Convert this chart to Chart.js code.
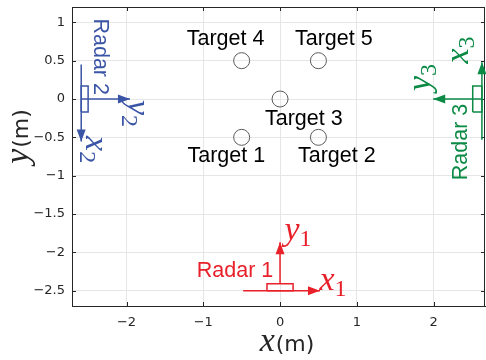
<!DOCTYPE html>
<html>
<head>
<meta charset="utf-8">
<script src="https://cdn.jsdelivr.net/npm/chart.js@4.4.0/dist/chart.umd.min.js"></script>
<style>
    html, body { margin: 0; padding: 0; background: #fff; }
    #wrap { width: 486px; height: 360px; }
</style>
</head>
<body>
<div id="wrap"><canvas id="chart" width="486" height="360"></canvas></div>
<script>
// axis ticks
const xTicks = [-2, -1, 0, 1, 2];
const yTicks = [-2.5, -2, -1.5, -1, -0.5, 0, 0.5, 1];

// targets
const targetNames = ['Target 1', 'Target 2', 'Target 3', 'Target 4', 'Target 5'];
const targetX = [-0.5, 0.5, 0, -0.5, 0.5];
const targetY = [-0.5, -0.5, 0, 0.5, 0.5];
const targetLabelX = [-0.7, 0.74, 0.31, -0.71, 0.7];
const targetLabelY = [-0.74, -0.74, -0.26, 0.78, 0.78];

// radar bodies (closed outlines) and local axes (start -> arrow tip)
const radar1Box = [[-0.17, -2.5], [0.17, -2.5], [0.17, -2.41], [-0.17, -2.41], [-0.17, -2.5]];
const radar1XAxis = [[-0.48, -2.5], [0.52, -2.5]];
const radar1YAxis = [[0, -2.41], [0, -1.87]];

const radar2Box = [[-2.59, -0.17], [-2.5, -0.17], [-2.5, 0.17], [-2.59, 0.17], [-2.59, -0.17]];
const radar2XAxis = [[-2.59, 0.45], [-2.59, -0.555]];
const radar2YAxis = [[-2.59, 0], [-1.955, 0]];

const radar3Box = [[2.51, -0.17], [2.63, -0.17], [2.63, 0.17], [2.51, 0.17], [2.51, -0.17]];
const radar3XAxis = [[2.63, -0.53], [2.63, 0.48]];
const radar3YAxis = [[2.63, 0], [1.995, 0]];

// radar labels
const radarNames = ['Radar 1', 'Radar 2', 'Radar 3'];
const radarLabelX = [-0.587, -2.347, 2.36];
const radarLabelY = [-2.24, 0.552, -0.56];
const radarLabelRot = [0, 90, -90];

// axis symbols: letter, subscript, position, rotation
const axisSym = ['x', 'y', 'x', 'y', 'x', 'y'];
const axisSub = ['1', '1', '2', '2', '3', '3'];
const axisSymX = [0.69, 0.235, -2.45, -1.9, 2.37, 1.88];
const axisSymY = [-2.41, -1.76, -0.66, -0.19, 0.64, 0.28];
const axisSymRot = [0, 0, 90, 90, -90, -90];
const axisSymRadar = [0, 0, 1, 1, 2, 2];

const radarColors = ['#e8202a', '#3b55a6', '#0b8a45'];
const INK = '#262626';

const toPts = arr => arr.map(p => ({ x: p[0], y: p[1] }));
const minus = v => String(v).replace('-', '\u2212');

function lineSet(pts, color, arrow) {
    return {
        data: toPts(pts),
        showLine: true,
        borderColor: color,
        backgroundColor: color,
        borderWidth: 1.5,
        pointRadius: 0,
        fill: false,
        tension: 0,
        arrow: arrow
    };
}

function drawMath(ctx, letter, sub, px, py, rot, color) {
    ctx.save();
    ctx.translate(px, py);
    ctx.rotate(rot * Math.PI / 180);
    ctx.fillStyle = color;
    ctx.textBaseline = 'alphabetic';
    ctx.textAlign = 'left';
    ctx.font = 'italic 34px "Liberation Serif"';
    const w1 = ctx.measureText(letter).width;
    ctx.font = '24px "Liberation Serif"';
    const w2 = ctx.measureText(sub).width;
    const x0 = -(w1 + w2) / 2;
    ctx.font = 'italic 34px "Liberation Serif"';
    ctx.fillText(letter, x0, 6);
    ctx.font = '24px "Liberation Serif"';
    ctx.fillText(sub, x0 + w1, 12);
    ctx.restore();
}

const annotate = {
    id: 'annotate',
    beforeDatasetsDraw(chart) {
        const { ctx, chartArea: a, scales: { x, y } } = chart;
        // inward tick marks and box
        ctx.save();
        ctx.strokeStyle = INK;
        ctx.lineWidth = 1;
        ctx.beginPath();
        xTicks.forEach(v => {
            const px = Math.round(x.getPixelForValue(v)) + 0.5;
            ctx.moveTo(px, a.bottom); ctx.lineTo(px, a.bottom - 4);
            ctx.moveTo(px, a.top); ctx.lineTo(px, a.top + 4);
        });
        yTicks.forEach(v => {
            const py = Math.round(y.getPixelForValue(v)) + 0.5;
            ctx.moveTo(a.left, py); ctx.lineTo(a.left + 4, py);
            ctx.moveTo(a.right, py); ctx.lineTo(a.right - 4, py);
        });
        ctx.stroke();
        ctx.beginPath();
        ctx.moveTo(a.left, a.top + 0.5); ctx.lineTo(a.right, a.top + 0.5);
        ctx.moveTo(a.right - 0.5, a.top); ctx.lineTo(a.right - 0.5, a.bottom);
        ctx.stroke();
        ctx.restore();
    },
    afterDatasetsDraw(chart) {
        const { ctx, chartArea: a, scales: { x, y } } = chart;

        // arrow heads at the end of the radar axes
        chart.data.datasets.forEach((ds, i) => {
            if (!ds.arrow) return;
            const pts = chart.getDatasetMeta(i).data;
            const p0 = pts[pts.length - 2], p1 = pts[pts.length - 1];
            const ang = Math.atan2(p1.y - p0.y, p1.x - p0.x);
            ctx.save();
            ctx.translate(p1.x, p1.y);
            ctx.rotate(ang);
            ctx.fillStyle = ds.borderColor;
            ctx.beginPath();
            ctx.moveTo(0, 0);
            ctx.lineTo(-12, -4.5);
            ctx.lineTo(-12, 4.5);
            ctx.closePath();
            ctx.fill();
            ctx.restore();
        });

        ctx.save();
        ctx.textAlign = 'center';
        ctx.textBaseline = 'middle';

        // target labels
        ctx.fillStyle = '#000';
        ctx.font = '21.5px "Liberation Sans"';
        targetNames.forEach((t, i) => {
            ctx.fillText(t, x.getPixelForValue(targetLabelX[i]), y.getPixelForValue(targetLabelY[i]));
        });

        // radar labels
        radarNames.forEach((t, i) => {
            ctx.save();
            ctx.translate(x.getPixelForValue(radarLabelX[i]), y.getPixelForValue(radarLabelY[i]));
            ctx.rotate(radarLabelRot[i] * Math.PI / 180);
            ctx.fillStyle = radarColors[i];
            ctx.font = '21.5px "Liberation Sans"';
            ctx.fillText(t, 0, 0);
            ctx.restore();
        });
        ctx.restore();

        // radar axis symbols
        axisSym.forEach((s, i) => {
            drawMath(ctx, s, axisSub[i], x.getPixelForValue(axisSymX[i]), y.getPixelForValue(axisSymY[i]),
                axisSymRot[i], radarColors[axisSymRadar[i]]);
        });

        // axis titles
        ctx.save();
        ctx.fillStyle = INK;
        ctx.textBaseline = 'alphabetic';
        ctx.textAlign = 'left';
        const drawTitle = (cx, cy, rot) => {
            ctx.save();
            ctx.translate(cx, cy);
            ctx.rotate(rot);
            ctx.font = 'italic 34px "Liberation Serif"';
            const w1 = ctx.measureText(rot ? 'y' : 'x').width;
            ctx.font = '22px "DejaVu Sans"';
            const w2 = ctx.measureText('(m)').width;
            const x0 = -(w1 + w2) / 2;
            ctx.font = 'italic 34px "Liberation Serif"';
            ctx.fillText(rot ? 'y' : 'x', x0, 0);
            ctx.font = '22px "DejaVu Sans"';
            ctx.fillText('(m)', x0 + w1 + 1, 0);
            ctx.restore();
        };
        drawTitle((a.left + a.right) / 2 + 8, 351, 0);
        drawTitle(28, 137, -Math.PI / 2);
        ctx.restore();
    }
};

const datasets = [
    {
        data: targetX.map((v, i) => ({ x: v, y: targetY[i] })),
        showLine: false,
        pointStyle: 'circle',
        pointRadius: 8,
        borderWidth: 1,
        borderColor: '#5a5a5a',
        backgroundColor: 'rgba(0,0,0,0)'
    },
    lineSet(radar1Box, radarColors[0], false),
    lineSet(radar1XAxis, radarColors[0], true),
    lineSet(radar1YAxis, radarColors[0], true),
    lineSet(radar2Box, radarColors[1], false),
    lineSet(radar2XAxis, radarColors[1], true),
    lineSet(radar2YAxis, radarColors[1], true),
    lineSet(radar3Box, radarColors[2], false),
    lineSet(radar3XAxis, radarColors[2], true),
    lineSet(radar3YAxis, radarColors[2], true)
];

new Chart(document.getElementById('chart').getContext('2d'), {
    type: 'scatter',
    data: { datasets },
    options: {
        responsive: false,
        animation: false,
        events: [],
        layout: { autoPadding: false, padding: { top: 7, right: 1, left: 0, bottom: 0 } },
        plugins: { legend: { display: false }, tooltip: { enabled: false } },
        scales: {
            x: {
                type: 'linear',
                min: -2.71,
                max: 2.67,
                afterFit: s => { s.height = 54; s.paddingLeft = 0; s.paddingRight = 0; },
                afterBuildTicks: s => { s.ticks = xTicks.map(v => ({ value: v })); },
                grid: { color: '#e6e6e6', drawTicks: false },
                border: { display: true, color: INK, width: 1 },
                ticks: {
                    padding: 9,
                    color: INK,
                    font: { family: 'DejaVu Sans', size: 13 },
                    callback: v => minus(v)
                }
            },
            y: {
                type: 'linear',
                min: -2.7,
                max: 1.2,
                afterFit: s => { s.width = 72; s.paddingTop = 0; s.paddingBottom = 0; },
                afterBuildTicks: s => { s.ticks = yTicks.map(v => ({ value: v })); },
                grid: { color: '#e6e6e6', drawTicks: false },
                border: { display: true, color: INK, width: 1 },
                ticks: {
                    padding: 7,
                    color: INK,
                    font: { family: 'DejaVu Sans', size: 13 },
                    callback: v => minus(v)
                }
            }
        }
    },
    plugins: [annotate]
});
</script>
</body>
</html>
